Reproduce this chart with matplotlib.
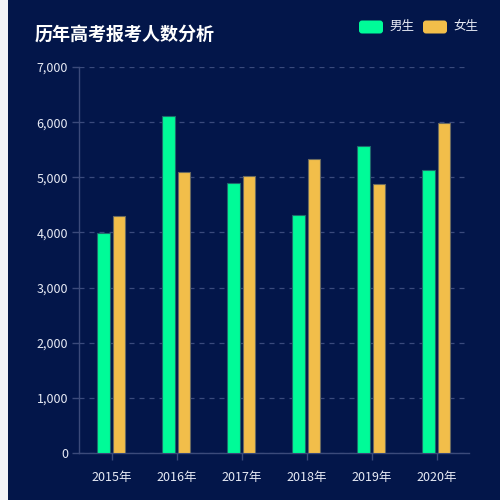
import matplotlib
matplotlib.use("Agg")
import matplotlib.pyplot as plt
from matplotlib.patches import Rectangle, FancyBboxPatch
import numpy as np

plt.rcParams['font.family'] = ['Noto Sans CJK SC', 'DejaVu Sans']

years = ["2015年", "2016年", "2017年", "2018年", "2019年", "2020年"]
male = [3990, 6120, 4900, 4320, 5560, 5130]
female = [4300, 5100, 5020, 5330, 4870, 5990]
series_names = ["男生", "女生"]
title = "历年高考报考人数分析"

bg = "#03164a"
green = "#00fb98"
yellow = "#f2be4a"
axis_col = "#3b4a7a"
text_col = "#e8ebf5"

fig = plt.figure(figsize=(5, 5), dpi=100, facecolor=bg)
fig.patches.append(Rectangle((0, 0), 8 / 500, 1, transform=fig.transFigure,
                             facecolor="#f2f3f8", edgecolor="none", zorder=0))

ax = fig.add_axes([79.3 / 500, 1 - 453 / 500, (469 - 79.3) / 500, (453 - 67) / 500])
ax.set_facecolor(bg)

x = np.arange(len(years))
w = 0.19
ax.bar(x - 0.125, male, width=w, color=green, edgecolor="#1d6b6c", linewidth=0.8, zorder=3)
ax.bar(x + 0.115, female, width=w, color=yellow, edgecolor="#6b6a5e", linewidth=0.8, zorder=3)

ax.set_xlim(-0.5, len(years) - 0.5)
ax.set_ylim(0, 7000)
ax.set_yticks(range(0, 7001, 1000))
ax.set_yticklabels([f"{v:,}" for v in range(0, 7001, 1000)])
ax.set_xticks(x)
ax.set_xticklabels(years)

ax.grid(axis='y', color="#3a4a7c", linestyle=(0, (4, 4)), linewidth=0.9, zorder=0)
ax.grid(axis='x', visible=False)
for s in ["top", "right"]:
    ax.spines[s].set_visible(False)
for s in ["left", "bottom"]:
    ax.spines[s].set_color(axis_col)
    ax.spines[s].set_linewidth(1)

ax.tick_params(axis='y', colors=axis_col, labelcolor=text_col, labelsize=9, length=5, width=1, pad=3)
ax.tick_params(axis='x', colors=axis_col, labelcolor=text_col, labelsize=9, length=5, width=1, pad=8)

fig.text(35 / 500, 1 - 34 / 500, title, color="white", fontsize=13, fontweight="bold",
         va="center", ha="left")

# legend
for i, (name, col) in enumerate(zip(series_names, [green, yellow])):
    x0 = (359 + i * 64) / 500
    fig.patches.append(FancyBboxPatch((x0, 1 - 33.5 / 500), 24 / 500, 13 / 500,
                                      boxstyle="round,pad=0,rounding_size=0.006",
                                      transform=fig.transFigure, facecolor=col,
                                      edgecolor="none"))
    fig.text(x0 + 30 / 500, 1 - 26.5 / 500, name, color=text_col, fontsize=9,
             va="center", ha="left")

fig.savefig("out.png", dpi=100, facecolor=bg)
